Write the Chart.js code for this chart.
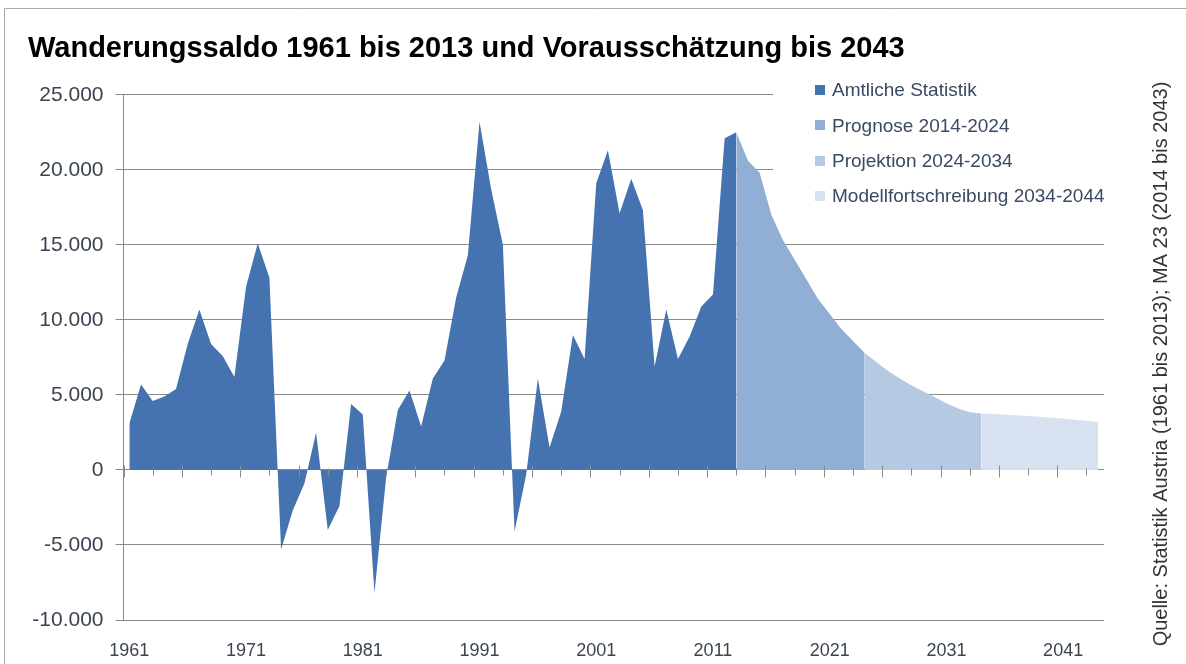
<!DOCTYPE html>
<html>
<head>
<meta charset="utf-8">
<script src="https://cdn.jsdelivr.net/npm/chart.js@4.4.1/dist/chart.umd.min.js"></script>
<style>
html, body { margin: 0; padding: 0; background: #fff; }
canvas { display: block; }
</style>
</head>
<body>
<canvas id="chart" width="1186" height="664"></canvas>
<script>
// categories: one per year
const years = [
  1961,1962,1963,1964,1965,1966,1967,1968,1969,1970,
  1971,1972,1973,1974,1975,1976,1977,1978,1979,1980,
  1981,1982,1983,1984,1985,1986,1987,1988,1989,1990,
  1991,1992,1993,1994,1995,1996,1997,1998,1999,2000,
  2001,2002,2003,2004,2005,2006,2007,2008,2009,2010,
  2011,2012,2013,2014,2015,2016,2017,2018,2019,2020,
  2021,2022,2023,2024,2025,2026,2027,2028,2029,2030,
  2031,2032,2033,2034,2035,2036,2037,2038,2039,2040,
  2041,2042,2043,2044
];

// Amtliche Statistik 1961-2013
const amtliche = [
  3100, 5700, 4600, 4900, 5400, 8400, 10700, 8400, 7600, 6200,
  12200, 15100, 12800, -5300, -2700, -900, 2500, -4000, -2400, 4400,
  3700, -8200, -500, 4000, 5300, 2900, 6100, 7300, 11500, 14300,
  23200, 18700, 15000, -4100, -300, 6100, 1500, 3900, 9000, 7400,
  19100, 21300, 17100, 19400, 17300, 6900, 10700, 7400, 8900, 10900,
  11700, 22100, 22500
];
// Prognose 2013-2024 (starts at the last official value)
const prognose = [22500, 20600, 19800, 17000, 15300, 14000, 12700, 11400, 10400, 9400, 8600, 7800];
// Projektion 2024-2034
const projektion = [7800, 7200, 6600, 6100, 5650, 5250, 4850, 4450, 4100, 3850, 3760];
// Modellfortschreibung 2034-2044
const modell = [3760, 3720, 3680, 3640, 3590, 3540, 3480, 3420, 3350, 3280, 3200];

const yTicks = [-10000, -5000, 0, 5000, 10000, 15000, 20000, 25000];

// put a series onto the full year axis, null elsewhere
function place(values, startYear) {
  const out = years.map(() => null);
  const start = years.indexOf(startYear);
  values.forEach((v, i) => { out[start + i] = v; });
  return out;
}

function fmt(v) {
  const s = String(Math.abs(v)).replace(/\B(?=(\d{3})+(?!\d))/g, '.');
  return (v < 0 ? '-' : '') + s;
}

const FONT = "'Liberation Sans', Arial, sans-serif";
const gridGray = '#8a8a8a';

const extras = {
  id: 'extras',
  beforeDraw(chart) {
    const ctx = chart.ctx;
    ctx.save();
    ctx.fillStyle = '#fff';
    ctx.fillRect(0, 0, chart.width, chart.height);
    // frame of the original graphic
    ctx.strokeStyle = '#a9a9a9';
    ctx.lineWidth = 1;
    ctx.beginPath();
    ctx.moveTo(4.5, chart.height);
    ctx.lineTo(4.5, 8.5);
    ctx.lineTo(chart.width, 8.5);
    ctx.stroke();
    ctx.restore();
  },
  afterDatasetsDraw(chart) {
    // tick marks on the zero line (category axis crosses at 0)
    const ctx = chart.ctx;
    const x = chart.scales.x, y = chart.scales.y;
    const y0 = Math.round(y.getPixelForValue(0)) + 0.5;
    const step = x.getPixelForValue(1) - x.getPixelForValue(0);
    ctx.save();
    ctx.strokeStyle = gridGray;
    ctx.lineWidth = 1;
    ctx.beginPath();
    for (let i = 0; i <= years.length; i += 2.5) {
      const px = Math.round(x.getPixelForValue(0) - step / 2 + i * step) + 0.5;
      const major = i % 5 === 0;
      ctx.moveTo(px, y0 - (major ? 5 : 2));
      ctx.lineTo(px, y0 + (major ? 7 : 5));
    }
    ctx.stroke();
    ctx.restore();
  },
  afterDraw(chart) {
    const ctx = chart.ctx;
    ctx.save();
    // legend box over the top right of the plot
    ctx.fillStyle = '#fff';
    ctx.fillRect(773, 78, 345, 128);
    ctx.font = '19px ' + FONT;
    ctx.textBaseline = 'middle';
    chart.data.datasets.forEach((ds, i) => {
      const cy = 90 + i * 35.4;
      ctx.fillStyle = ds.backgroundColor;
      ctx.fillRect(815, Math.round(cy - 5), 10, 10);
      ctx.fillStyle = '#3a4a62';
      ctx.fillText(ds.label, 832, cy + 1);
    });
    // source note, rotated
    ctx.translate(1161, 364);
    ctx.rotate(-Math.PI / 2);
    ctx.textAlign = 'center';
    ctx.fillStyle = '#333';
    ctx.font = '20px ' + FONT;
    ctx.fillText('Quelle: Statistik Austria (1961 bis 2013); MA 23 (2014 bis 2043)', 0, 0);
    ctx.restore();
  }
};

const areaDefaults = { fill: 'origin', borderWidth: 0, pointRadius: 0, tension: 0, spanGaps: false };

new Chart(document.getElementById('chart'), {
  type: 'line',
  data: {
    labels: years,
    datasets: [
      Object.assign({ label: 'Amtliche Statistik', data: place(amtliche, 1961),
        backgroundColor: '#4573af', borderColor: '#4573af' }, areaDefaults),
      Object.assign({ label: 'Prognose 2014-2024', data: place(prognose, 2013),
        backgroundColor: '#91aed5', borderColor: '#91aed5' }, areaDefaults),
      Object.assign({ label: 'Projektion 2024-2034', data: place(projektion, 2024),
        backgroundColor: '#b6c9e3', borderColor: '#b6c9e3' }, areaDefaults),
      Object.assign({ label: 'Modellfortschreibung 2034-2044', data: place(modell, 2034),
        backgroundColor: '#d8e1ef', borderColor: '#d8e1ef' }, areaDefaults)
    ]
  },
  options: {
    responsive: false,
    animation: false,
    events: [],
    layout: { padding: { left: 28, right: 82, top: 0, bottom: 0 } },
    plugins: {
      legend: { display: false },
      tooltip: { enabled: false },
      title: {
        display: true,
        text: 'Wanderungssaldo 1961 bis 2013 und Vorausschätzung bis 2043',
        align: 'start',
        color: '#000',
        font: { family: FONT, size: 29, weight: 'bold', lineHeight: 1.2 },
        padding: { top: 32, bottom: 28 }
      }
    },
    scales: {
      x: {
        type: 'category',
        offset: true,
        grid: { display: false },
        border: { display: false },
        ticks: {
          autoSkip: false,
          maxRotation: 0,
          padding: 12,
          color: '#3c4452',
          font: { family: FONT, size: 18 },
          callback: (v, i) => ((years[i] - 1961) % 10 === 0 ? String(years[i]) : '')
        },
        afterFit: (s) => { s.height = 44; }
      },
      y: {
        min: yTicks[0],
        max: yTicks[yTicks.length - 1],
        afterBuildTicks: (s) => { s.ticks = yTicks.map(v => ({ value: v })); },
        grid: { color: gridGray, tickLength: 8, lineWidth: 1 },
        border: { display: true, color: gridGray },
        ticks: {
          padding: 12,
          color: '#3c4452',
          font: { family: FONT, size: 21 },
          callback: (v) => fmt(v)
        },
        afterFit: (s) => { s.width = 95.5; }
      }
    }
  },
  plugins: [extras]
});
</script>
</body>
</html>
